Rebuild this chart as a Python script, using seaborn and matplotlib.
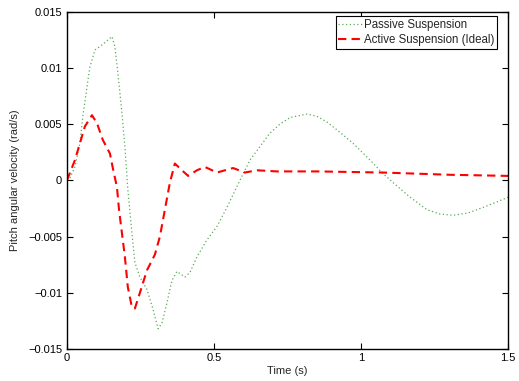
import numpy as np
import pandas as pd
import matplotlib
matplotlib.use("Agg")
import matplotlib.pyplot as plt
import seaborn as sns

passive_t = [0, 0.010, 0.027, 0.044, 0.054, 0.068, 0.078, 0.085, 0.095, 0.122, 0.153, 0.163, 0.173,
             0.187, 0.197, 0.207, 0.221, 0.231, 0.248, 0.272, 0.293, 0.310, 0.323, 0.340, 0.357,
             0.374, 0.401, 0.418, 0.442, 0.476, 0.510, 0.544, 0.588, 0.622, 0.656, 0.690, 0.724,
             0.759, 0.816, 0.850, 0.884, 0.918, 0.973, 1.031, 1.071, 1.109, 1.167, 1.224, 1.269,
             1.313, 1.364, 1.415, 1.463, 1.5]
passive_v = [0, 0.0002, 0.0012, 0.0033, 0.0057, 0.0083, 0.0101, 0.0107, 0.0116, 0.0121, 0.0128,
             0.0119, 0.0096, 0.0060, 0.0030, -0.0008, -0.0047, -0.0073, -0.0086, -0.0097, -0.0115,
             -0.0132, -0.0127, -0.0109, -0.0089, -0.0081, -0.0086, -0.0082, -0.0068, -0.0053,
             -0.0041, -0.0024, 0.0000, 0.0018, 0.0030, 0.0042, 0.0050, 0.0056, 0.0059, 0.0057,
             0.0052, 0.0045, 0.0033, 0.0018, 0.0007, -0.0002, -0.0015, -0.0026, -0.0030, -0.0031,
             -0.0029, -0.0024, -0.0019, -0.0015]

active_t = [0, 0.027, 0.044, 0.061, 0.085, 0.102, 0.122, 0.146, 0.156, 0.170, 0.177, 0.187, 0.197,
            0.207, 0.221, 0.231, 0.248, 0.272, 0.299, 0.316, 0.333, 0.350, 0.367, 0.391, 0.412,
            0.442, 0.469, 0.510, 0.537, 0.565, 0.605, 0.646, 0.714, 0.850, 1.075, 1.303, 1.5]
active_v = [0, 0.0018, 0.0033, 0.0048, 0.0058, 0.0051, 0.0036, 0.0024, 0.0011, -0.0006, -0.0026,
            -0.0047, -0.0068, -0.0095, -0.0113, -0.0114, -0.0100, -0.0080, -0.0066, -0.0050,
            -0.0026, -0.0002, 0.0015, 0.0009, 0.0004, 0.0009, 0.0012, 0.0007, 0.0009, 0.0011,
            0.0007, 0.0009, 0.0008, 0.0008, 0.0007, 0.0005, 0.0004]

labels = ["Passive Suspension", "Active Suspension (Ideal)"]
x_ticks = [0, 0.5, 1, 1.5]
x_ticklabels = ["0", "0.5", "1", "1.5"]
y_ticks = [-0.015, -0.01, -0.005, 0, 0.005, 0.01, 0.015]
y_ticklabels = ["\u22120.015", "\u22120.01", "\u22120.005", "0", "0.005", "0.01", "0.015"]

df = pd.concat([
    pd.DataFrame({"t": passive_t, "v": passive_v, "series": labels[0]}),
    pd.DataFrame({"t": active_t, "v": active_v, "series": labels[1]}),
], ignore_index=True)

sns.set_style("white")
plt.rcParams["font.family"] = ["Liberation Sans", "DejaVu Sans"]

fig = plt.figure(figsize=(5.19, 3.81), dpi=100)
ax = fig.add_axes([0.129, 0.084, 0.850, 0.885])

sns.lineplot(data=df, x="t", y="v", hue="series", style="series",
             palette={labels[0]: "#5aaa5a", labels[1]: "#ff0000"},
             dashes={labels[0]: (1, 2), labels[1]: (4, 2.5)},
             sort=False, ax=ax, legend=True)
for line, lw in zip(ax.lines, [0.9, 1.5]):
    line.set_linewidth(lw)

ax.set_xlim(0, 1.5)
ax.set_ylim(-0.015, 0.015)
ax.set_xticks(x_ticks)
ax.set_xticklabels(x_ticklabels)
ax.set_yticks(y_ticks)
ax.set_yticklabels(y_ticklabels)
ax.tick_params(direction="in", length=4, width=0.8, labelsize=8, colors="black",
               top=True, right=True, bottom=True, left=True)
ax.tick_params(axis="x", pad=3)
for s in ax.spines.values():
    s.set_visible(True)
    s.set_color("black")
    s.set_linewidth(1.0)
ax.set_xlabel("Time (s)", fontsize=8, labelpad=2)
ax.set_ylabel("Pitch angular velocity (rad/s)", fontsize=8, labelpad=6)

handles, lbls = ax.get_legend_handles_labels()
for h, lw in zip(handles, [0.9, 1.5]):
    h.set_linewidth(lw)
leg = ax.legend(handles, lbls, loc="upper right", bbox_to_anchor=(0.975, 0.988),
                fontsize=8.3, frameon=True,
                fancybox=False, edgecolor="black", framealpha=1,
                borderpad=0.25, handlelength=2.1, handletextpad=0.1, labelspacing=0.3,
                borderaxespad=0)
leg.get_frame().set_linewidth(0.8)

fig.savefig("out.png", dpi=100)
